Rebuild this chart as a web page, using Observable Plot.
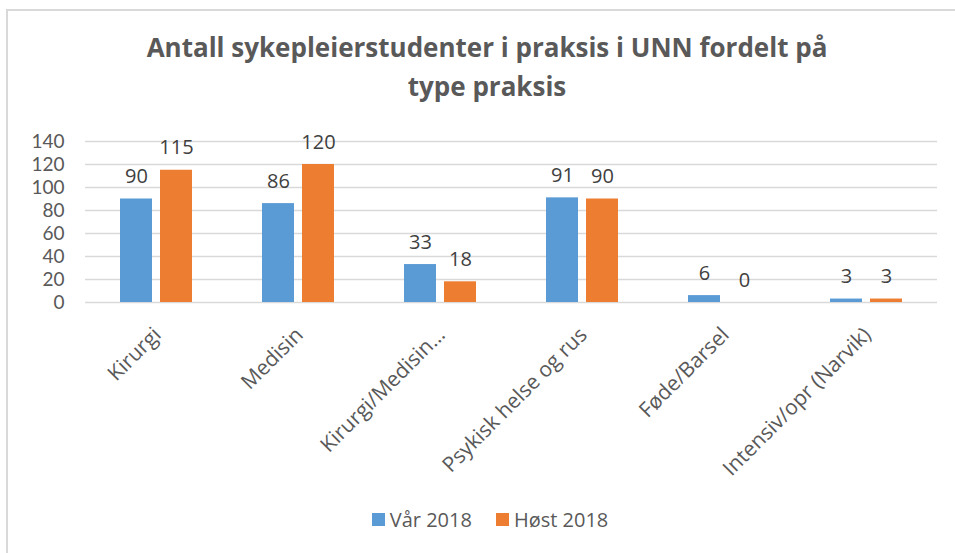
<!DOCTYPE html>
<html>
<head>
<meta charset="utf-8">
<script src="https://cdn.jsdelivr.net/npm/d3@7"></script>
<script src="https://cdn.jsdelivr.net/npm/@observablehq/plot@0.6"></script>
<style>
  html, body { margin: 0; padding: 0; background: #fff; }
  #wrap { position: relative; width: 955px; height: 553px; overflow: hidden; font-family: "Open Sans", Lato, sans-serif; }
  #frame { position: absolute; left: 6px; top: 9px; width: 960px; height: 560px; border-left: 2px solid #d9d9d9; border-top: 2px solid #d9d9d9; }
  #title { position: absolute; left: 0; width: 974px; top: 28px; text-align: center; font-weight: bold; font-size: 26px; line-height: 39px; color: #595959; }
  #chart { position: absolute; left: 0; top: 110px; }
  #legend { position: absolute; top: 506px; left: 0; width: 980px; display: flex; justify-content: center; font-size: 20px; color: #595959; }
  .item { display: flex; align-items: center; margin: 0 12px; }
  .sw { width: 13px; height: 13px; margin-right: 5px; }
</style>
</head>
<body>
<div id="wrap">
  <div id="frame"></div>
  <div id="title"></div>
  <div id="chart"></div>
  <div id="legend"></div>
</div>
<script>
const titleLines = ["Antall sykepleierstudenter i praksis i UNN fordelt på", "type praksis"];
const categories = ["Kirurgi", "Medisin", "Kirurgi/Medisin…", "Psykisk helse og rus", "Føde/Barsel", "Intensiv/opr (Narvik)"];
const series = ["Vår 2018", "Høst 2018"];
const var2018 = [90, 86, 33, 91, 6, 3];
const host2018 = [115, 120, 18, 90, 0, 3];
const yTicks = [0, 20, 40, 60, 80, 100, 120, 140];
const colors = ["#5B9BD5", "#ED7D31"];

const values = [var2018, host2018];
const data = categories.flatMap((c, i) => series.map((s, j) => ({cat: c, s, v: values[j][i]})));

document.getElementById("title").innerHTML = titleLines.join("<br>");

const chart = Plot.plot({
  width: 955,
  height: 390,
  marginTop: 31,
  marginBottom: 198,
  marginLeft: 83,
  marginRight: 17,
  style: {fontFamily: "'Open Sans', Lato, sans-serif", background: "transparent", overflow: "visible"},
  fx: {domain: categories, padding: 0, label: null},
  x: {domain: series, paddingInner: 0.2, paddingOuter: 0.875, axis: null},
  y: {domain: [0, 140], label: null},
  color: {domain: series, range: colors},
  marks: [
    Plot.ruleY(yTicks, {stroke: "#d9d9d9", strokeWidth: 1.5}),
    Plot.barY(data, {fx: "cat", x: "s", y: "v", fill: "s"}),
    Plot.text(data, {fx: "cat", x: "s", y: "v", text: d => String(d.v), lineAnchor: "bottom", dy: -16, fill: "#404040", fontSize: 20}),
    Plot.axisY({ticks: yTicks, tickSize: 0, tickPadding: 21, fontSize: 19, fontFamily: "Lato, sans-serif", color: "#595959", label: null}),
    Plot.axisFx({anchor: "bottom", tickRotate: -45, tickSize: 0, fontSize: 21, color: "#595959", label: null, dx: 1, dy: 17})
  ]
});
document.getElementById("chart").appendChild(chart);

const legend = document.getElementById("legend");
series.forEach((s, i) => {
  const it = document.createElement("div");
  it.className = "item";
  it.innerHTML = `<div class="sw" style="background:${colors[i]}"></div><span>${s}</span>`;
  legend.appendChild(it);
});
</script>
</body>
</html>
